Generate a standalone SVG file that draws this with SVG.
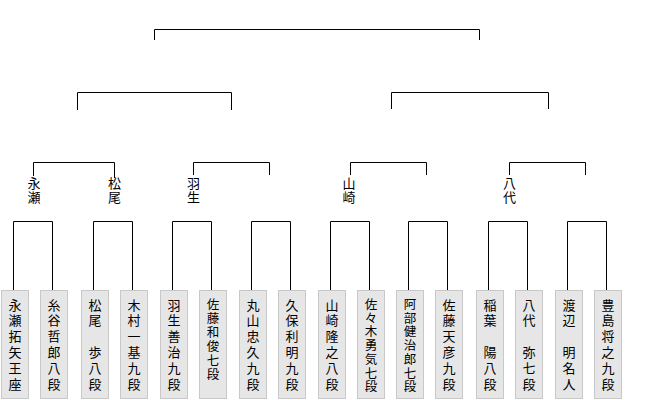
<svg xmlns="http://www.w3.org/2000/svg" width="660" height="400" viewBox="0 0 660 400">
<style>
.c{fill:none;stroke:#000;stroke-width:1}
.b{fill:#e6e6e6;stroke:#c8c8c8;stroke-width:1}
text{font-family:"Noto Sans CJK JP","Noto Sans CJK SC",sans-serif;font-size:13px;fill:#000;text-anchor:middle}
text.s{font-size:12.5px}
</style>
<rect width="660" height="400" fill="#fff"/>
<g id="connectors" class="c">
<path class="c" d="M154.5 40 V29.5 H479.5 V40"/>
<path class="c" d="M77.5 110 V92.5 H231.5 V110"/>
<path class="c" d="M391.5 109 V92.5 H548.5 V109"/>
<path class="c" d="M33.5 176 V162.5 H114.5 V178"/>
<path class="c" d="M193.5 175 V162.5 H269.5 V175"/>
<path class="c" d="M350.5 175 V162.5 H426.5 V175"/>
<path class="c" d="M509.5 175 V162.5 H585.5 V175"/>
<path class="c" d="M13.5 290 V221.5 H52.5 V290"/>
<path class="c" d="M93.5 290 V221.5 H132.5 V290"/>
<path class="c" d="M172.5 290 V221.5 H211.5 V290"/>
<path class="c" d="M251.5 290 V221.5 H290.5 V290"/>
<path class="c" d="M330.5 290 V221.5 H369.5 V290"/>
<path class="c" d="M408.5 290 V221.5 H447.5 V290"/>
<path class="c" d="M488.5 290 V221.5 H527.5 V290"/>
<path class="c" d="M567.5 290 V221.5 H606.5 V290"/>
</g>
<g id="w-nagase"><text><tspan x="34" y="188">永</tspan><tspan x="34" y="202">瀬</tspan></text></g>
<g id="w-matsuo"><text><tspan x="114.5" y="188">松</tspan><tspan x="114.5" y="202">尾</tspan></text></g>
<g id="w-habu"><text><tspan x="193.5" y="188">羽</tspan><tspan x="193.5" y="202">生</tspan></text></g>
<g id="w-yamazaki"><text><tspan x="349" y="188">山</tspan><tspan x="349" y="202">崎</tspan></text></g>
<g id="w-yashiro"><text><tspan x="509.5" y="188">八</tspan><tspan x="509.5" y="202">代</tspan></text></g>

<g id="p1"><rect class="b" x="1.5" y="290.5" width="27" height="108"/><text><tspan x="15" y="309.5">永</tspan><tspan x="15" y="325.3">瀬</tspan><tspan x="15" y="341.1">拓</tspan><tspan x="15" y="356.9">矢</tspan><tspan x="15" y="372.7">王</tspan><tspan x="15" y="388.5">座</tspan></text></g>
<g id="p2"><rect class="b" x="40.5" y="290.5" width="27" height="108"/><text><tspan x="54" y="309.5">糸</tspan><tspan x="54" y="325.3">谷</tspan><tspan x="54" y="341.1">哲</tspan><tspan x="54" y="356.9">郎</tspan><tspan x="54" y="372.7">八</tspan><tspan x="54" y="388.5">段</tspan></text></g>
<g id="p3"><rect class="b" x="81.5" y="290.5" width="27" height="108"/><text><tspan x="95" y="309.5">松</tspan><tspan x="95" y="325.3">尾</tspan><tspan x="95" y="356.9">歩</tspan><tspan x="95" y="372.7">八</tspan><tspan x="95" y="388.5">段</tspan></text></g>
<g id="p4"><rect class="b" x="120.5" y="290.5" width="27" height="108"/><text><tspan x="134" y="309.5">木</tspan><tspan x="134" y="325.3">村</tspan><tspan x="134" y="341.1">一</tspan><tspan x="134" y="356.9">基</tspan><tspan x="134" y="372.7">九</tspan><tspan x="134" y="388.5">段</tspan></text></g>
<g id="p5"><rect class="b" x="160.5" y="290.5" width="27" height="108"/><text><tspan x="174" y="309.5">羽</tspan><tspan x="174" y="325.3">生</tspan><tspan x="174" y="341.1">善</tspan><tspan x="174" y="356.9">治</tspan><tspan x="174" y="372.7">九</tspan><tspan x="174" y="388.5">段</tspan></text></g>
<g id="p6"><rect class="b" x="199.5" y="290.5" width="27" height="108"/><text class="s"><tspan x="213" y="309">佐</tspan><tspan x="213" y="323">藤</tspan><tspan x="213" y="337">和</tspan><tspan x="213" y="351">俊</tspan><tspan x="213" y="365">七</tspan><tspan x="213" y="379">段</tspan></text></g>
<g id="p7"><rect class="b" x="239.5" y="290.5" width="27" height="108"/><text><tspan x="253" y="309.5">丸</tspan><tspan x="253" y="325.3">山</tspan><tspan x="253" y="341.1">忠</tspan><tspan x="253" y="356.9">久</tspan><tspan x="253" y="372.7">九</tspan><tspan x="253" y="388.5">段</tspan></text></g>
<g id="p8"><rect class="b" x="278.5" y="290.5" width="27" height="108"/><text><tspan x="292" y="309.5">久</tspan><tspan x="292" y="325.3">保</tspan><tspan x="292" y="341.1">利</tspan><tspan x="292" y="356.9">明</tspan><tspan x="292" y="372.7">九</tspan><tspan x="292" y="388.5">段</tspan></text></g>
<g id="p9"><rect class="b" x="318.5" y="290.5" width="27" height="108"/><text><tspan x="332" y="309.5">山</tspan><tspan x="332" y="325.3">崎</tspan><tspan x="332" y="341.1">隆</tspan><tspan x="332" y="356.9">之</tspan><tspan x="332" y="372.7">八</tspan><tspan x="332" y="388.5">段</tspan></text></g>
<g id="p10"><rect class="b" x="357.5" y="290.5" width="27" height="108"/><text class="s"><tspan x="371" y="309">佐</tspan><tspan x="371" y="322.7">々</tspan><tspan x="371" y="336.4">木</tspan><tspan x="371" y="350.1">勇</tspan><tspan x="371" y="363.8">気</tspan><tspan x="371" y="377.5">七</tspan><tspan x="371" y="391.2">段</tspan></text></g>
<g id="p11"><rect class="b" x="396.5" y="290.5" width="27" height="108"/><text class="s"><tspan x="410" y="309">阿</tspan><tspan x="410" y="322.7">部</tspan><tspan x="410" y="336.4">健</tspan><tspan x="410" y="350.1">治</tspan><tspan x="410" y="363.8">郎</tspan><tspan x="410" y="377.5">七</tspan><tspan x="410" y="391.2">段</tspan></text></g>
<g id="p12"><rect class="b" x="435.5" y="290.5" width="27" height="108"/><text><tspan x="449" y="309.5">佐</tspan><tspan x="449" y="325.3">藤</tspan><tspan x="449" y="341.1">天</tspan><tspan x="449" y="356.9">彦</tspan><tspan x="449" y="372.7">九</tspan><tspan x="449" y="388.5">段</tspan></text></g>
<g id="p13"><rect class="b" x="476.5" y="290.5" width="27" height="108"/><text><tspan x="490" y="309.5">稲</tspan><tspan x="490" y="325.3">葉</tspan><tspan x="490" y="356.9">陽</tspan><tspan x="490" y="372.7">八</tspan><tspan x="490" y="388.5">段</tspan></text></g>
<g id="p14"><rect class="b" x="515.5" y="290.5" width="27" height="108"/><text><tspan x="529" y="309.5">八</tspan><tspan x="529" y="325.3">代</tspan><tspan x="529" y="356.9">弥</tspan><tspan x="529" y="372.7">七</tspan><tspan x="529" y="388.5">段</tspan></text></g>
<g id="p15"><rect class="b" x="555.5" y="290.5" width="27" height="108"/><text><tspan x="569" y="309.5">渡</tspan><tspan x="569" y="325.3">辺</tspan><tspan x="569" y="356.9">明</tspan><tspan x="569" y="372.7">名</tspan><tspan x="569" y="388.5">人</tspan></text></g>
<g id="p16"><rect class="b" x="594.5" y="290.5" width="27" height="108"/><text><tspan x="608" y="309.5">豊</tspan><tspan x="608" y="325.3">島</tspan><tspan x="608" y="341.1">将</tspan><tspan x="608" y="356.9">之</tspan><tspan x="608" y="372.7">九</tspan><tspan x="608" y="388.5">段</tspan></text></g>
</svg>
